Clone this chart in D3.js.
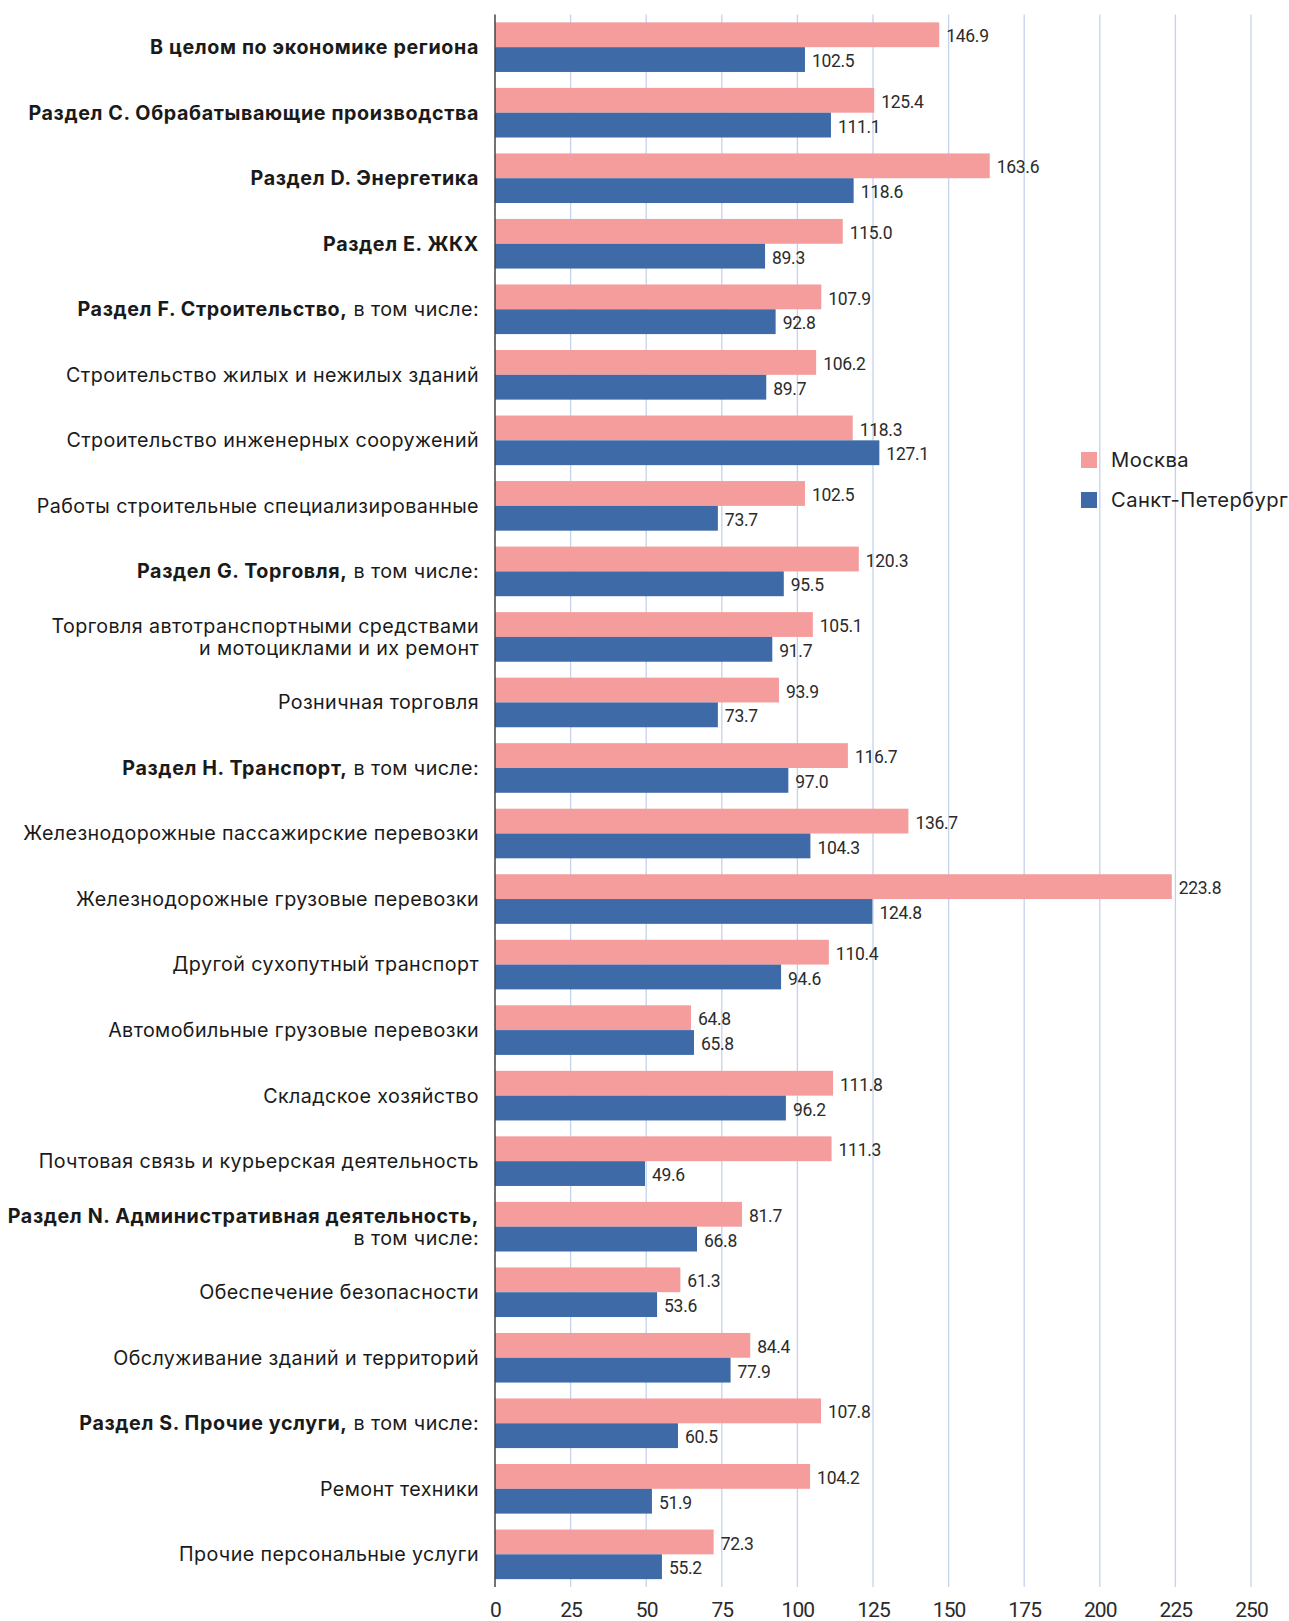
<!DOCTYPE html>
<html><head><meta charset="utf-8">
<script src="https://cdn.jsdelivr.net/npm/d3@7/dist/d3.min.js"></script>
<style>body{margin:0;background:#fff}svg{display:block}</style>
</head><body>
<script>
// label parts: [boldPart, regularPart] ; "|" splits lines
const categories = [
  ["В целом по экономике региона", ""],
  ["Раздел C. Обрабатывающие производства", ""],
  ["Раздел D. Энергетика", ""],
  ["Раздел E. ЖКХ", ""],
  ["Раздел F. Строительство,", " в том числе:"],
  ["", "Строительство жилых и нежилых зданий"],
  ["", "Строительство инженерных сооружений"],
  ["", "Работы строительные специализированные"],
  ["Раздел G. Торговля,", " в том числе:"],
  ["", "Торговля автотранспортными средствами|и мотоциклами и их ремонт"],
  ["", "Розничная торговля"],
  ["Раздел H. Транспорт,", " в том числе:"],
  ["", "Железнодорожные пассажирские перевозки"],
  ["", "Железнодорожные грузовые перевозки"],
  ["", "Другой сухопутный транспорт"],
  ["", "Автомобильные грузовые перевозки"],
  ["", "Складское хозяйство"],
  ["", "Почтовая связь и курьерская деятельность"],
  ["Раздел N. Административная деятельность,", "|в том числе:"],
  ["", "Обеспечение безопасности"],
  ["", "Обслуживание зданий и территорий"],
  ["Раздел S. Прочие услуги,", " в том числе:"],
  ["", "Ремонт техники"],
  ["", "Прочие персональные услуги"]
];
const moscow = [146.9,125.4,163.6,115.0,107.9,106.2,118.3,102.5,120.3,105.1,93.9,116.7,136.7,223.8,110.4,64.8,111.8,111.3,81.7,61.3,84.4,107.8,104.2,72.3];
const spb    = [102.5,111.1,118.6,89.3,92.8,89.7,127.1,73.7,95.5,91.7,73.7,97.0,104.3,124.8,94.6,65.8,96.2,49.6,66.8,53.6,77.9,60.5,51.9,55.2];
const seriesNames = ["Москва","Санкт-Петербург"];
const tickValues = [0,25,50,75,100,125,150,175,200,225,250];

const W = 1289, H = 1621;
const colors = ["#F59C9C","#3E6AA8"];
const svg = d3.select("body").append("svg").attr("width",W).attr("height",H);

const x0 = 495, x1 = 1251, yTop = 14.5, yBot = 1587;
const x = d3.scaleLinear().domain([0,250]).range([x0,x1]);
const y = d3.scaleBand().domain(d3.range(categories.length)).range([yTop,yBot]).paddingInner(0.243).paddingOuter(0.12);
const sub = d3.scaleBand().domain([0,1]).range([0,y.bandwidth()]);

// gridlines
svg.append("g").selectAll("line").data(tickValues.filter(d=>d>0)).join("line")
  .attr("x1",d=>x(d)).attr("x2",d=>x(d)).attr("y1",yTop).attr("y2",yBot)
  .attr("stroke","#C3D3EC").attr("stroke-width",1.3);

// bars
const series = [moscow, spb];
series.forEach((vals,si)=>{
  const g = svg.append("g");
  g.selectAll("rect").data(vals).join("rect")
    .attr("x",x(0)).attr("y",(d,i)=>y(i)+sub(si))
    .attr("width",d=>x(d)-x(0)).attr("height",sub.bandwidth())
    .attr("fill",colors[si]);
  g.selectAll("text").data(vals).join("text")
    .attr("x",d=>x(d)+7).attr("y",(d,i)=>y(i)+sub(si)+sub.bandwidth()/2+1.5)
    .attr("dy","0.35em")
    .attr("font-family","Roboto, sans-serif").attr("font-size",17.5)
    .attr("letter-spacing","-0.3px")
    .attr("fill","#2b2b2b").text(d=>d.toFixed(1));
});

// axis line
svg.append("line").attr("x1",x0).attr("x2",x0).attr("y1",yTop).attr("y2",yBot)
  .attr("stroke","#444").attr("stroke-width",1.5);

// x axis
const xAxis = d3.axisBottom(x).tickValues(tickValues).tickSize(0).tickPadding(0);
const ax = svg.append("g").attr("transform",`translate(0,${yBot})`).call(xAxis);
ax.select(".domain").remove();
ax.selectAll("text").attr("font-family","Roboto, sans-serif").attr("font-size",21)
  .attr("fill","#2b2b2b").attr("y",15).attr("dy","0.71em").attr("letter-spacing","-0.9px");

// category labels
const lab = svg.append("g");
const lineH = 22;
categories.forEach((c,i)=>{
  const cy = y(i)+y.bandwidth()/2;
  const bold = c[0], reg = c[1];
  let lines;
  if (reg.startsWith("|")) {
    lines = [[[bold,true]],[[reg.slice(1),false]]];
  } else if (reg.includes("|")) {
    lines = reg.split("|").map(s=>[[s,false]]);
  } else {
    const l = [];
    if (bold) l.push([bold,true]);
    if (reg) l.push([reg,false]);
    lines = [l];
  }
  const n = lines.length;
  lines.forEach((spans,li)=>{
    const t = lab.append("text").attr("x",x0-16)
      .attr("y",cy + (li-(n-1)/2)*lineH).attr("dy","0.35em")
      .attr("text-anchor","end").attr("font-family","Inter, sans-serif")
      .attr("font-size",19.7).attr("fill","#1a1a1a");
    spans.forEach(([s,b])=>{
      t.append("tspan").attr("font-weight",b?700:400)
        .attr("letter-spacing",b?"0.62px":"0.4px")
        .attr("xml:space","preserve").text(s);
    });
  });
});

// legend
const lg = svg.append("g");
seriesNames.forEach((nm,i)=>{
  lg.append("rect").attr("x",1081).attr("y",452+i*40).attr("width",16).attr("height",16).attr("fill",colors[i]);
  lg.append("text").attr("x",1111).attr("y",460+i*40).attr("dy","0.35em")
    .attr("font-family","Inter, sans-serif").attr("font-size",20.2).attr("letter-spacing","0.4px")
    .attr("fill","#222").text(nm);
});
</script>
</body></html>
